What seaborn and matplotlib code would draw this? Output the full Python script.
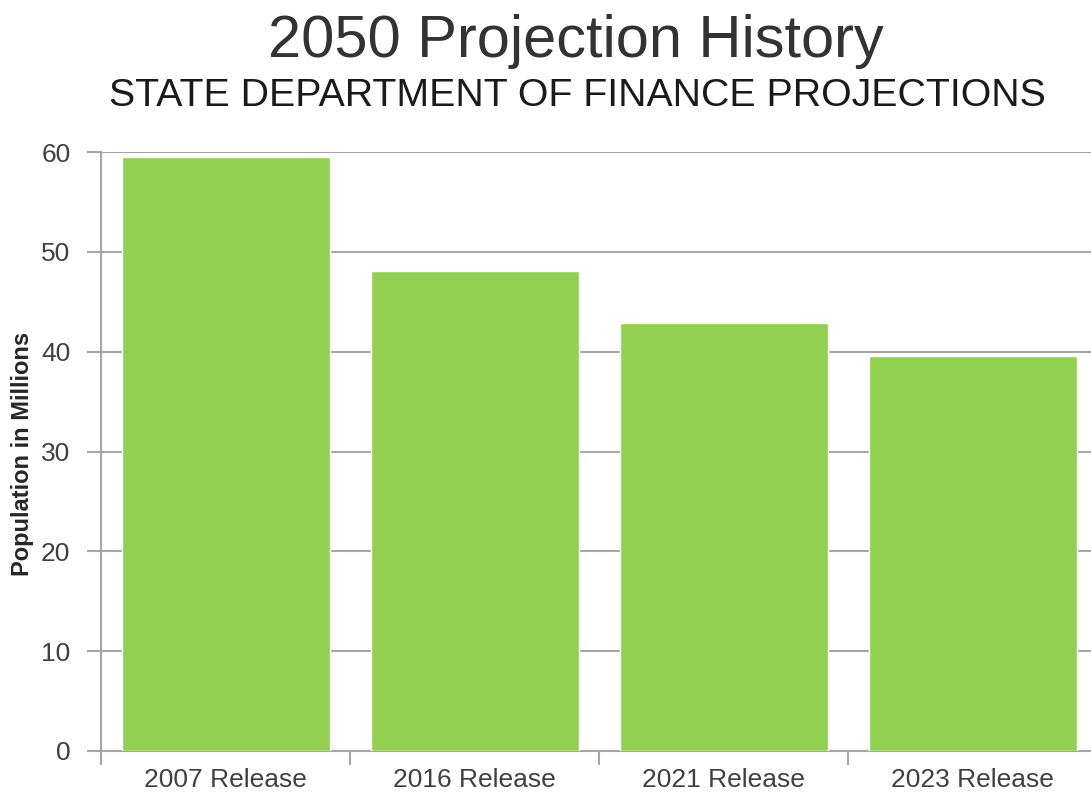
import matplotlib
matplotlib.use("Agg")
import matplotlib.pyplot as plt
import seaborn as sns
import pandas as pd

# chart data
releases = ["2007 Release", "2016 Release", "2021 Release", "2023 Release"]
population = [59.5, 48.1, 42.9, 39.6]
y_ticks = [0, 10, 20, 30, 40, 50, 60]

df = pd.DataFrame({"Release": releases, "Population": population})

sns.set_style("white")
plt.rcParams["font.family"] = ["Liberation Sans", "DejaVu Sans"]

fig = plt.figure(figsize=(10.91, 7.98), dpi=100)
ax = fig.add_axes([0.0926, 0.0589, 0.913, 0.7506])

sns.barplot(data=df, x="Release", y="Population", color="#92D050",
            saturation=1, width=0.835, ax=ax, zorder=3)

ax.set_ylim(0, 60)
ax.set_xlim(-0.5, 3.5)
ax.set_yticks(y_ticks)
ax.yaxis.grid(True, color="#A6A6A6", linewidth=1.5, zorder=0)
ax.set_axisbelow(True)

for side in ["top", "right"]:
    ax.spines[side].set_visible(False)
for side in ["left", "bottom"]:
    ax.spines[side].set_color("#A6A6A6")
    ax.spines[side].set_linewidth(1.5)

# x ticks sit on the category boundaries
ax.set_xticks([-0.5, 0.5, 1.5, 2.5, 3.5], minor=False)
ax.set_xticklabels([])
ax.set_xticks([0, 1, 2, 3], minor=True)
ax.set_xticklabels(releases, minor=True)
ax.tick_params(axis="x", which="major", direction="out", length=10, width=1.5,
               color="#A6A6A6", bottom=True)
ax.tick_params(axis="x", which="minor", length=0, pad=12, labelsize=19,
               labelcolor="#404040")
ax.tick_params(axis="y", direction="out", length=10, width=1.5, color="#A6A6A6",
               left=True, labelsize=19, labelcolor="#404040", pad=12)

ax.set_xlabel("")
ax.set_ylabel("Population in Millions", fontsize=17, fontweight="bold",
              color="#262626", va="center")
ax.yaxis.set_label_coords(-0.0793, 0.496)

fig.text(0.528, 0.948, "2050 Projection History", ha="center", va="center",
         fontsize=42.8, color="#333333")
fig.text(0.529, 0.880, "STATE DEPARTMENT OF FINANCE PROJECTIONS", ha="center",
         va="center", fontsize=28.3, color="#1a1a1a")

fig.savefig("out.png", dpi=100)
